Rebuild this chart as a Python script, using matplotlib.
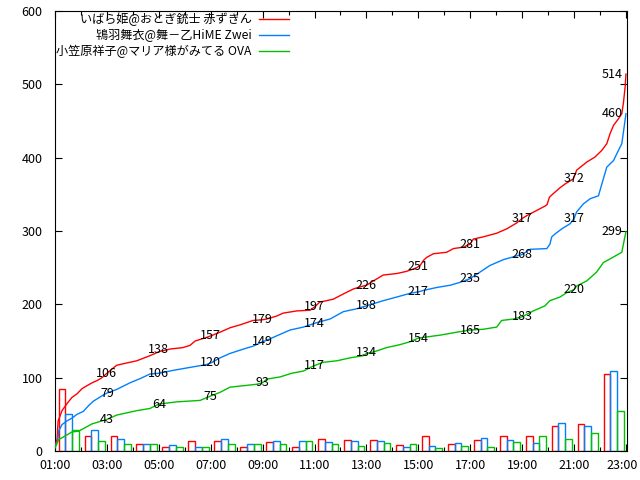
import numpy as np
import matplotlib
matplotlib.use("Agg")
import matplotlib.pyplot as plt
import matplotlib.transforms as mtransforms
from matplotlib.ticker import MultipleLocator, FixedLocator

plt.rcParams['font.family'] = ['Noto Sans CJK JP', 'DejaVu Sans']

names = ["いばら姫@おとぎ銃士 赤ずきん", "鴇羽舞衣@舞－乙HiME Zwei", "小笠原祥子@マリア様がみてる OVA"]
colors = ["#ff0000", "#0080ff", "#00c000"]

# cumulative votes (hour of day, total)
red_t = [1.00, 1.08, 1.12, 1.27, 1.45, 1.65, 1.85, 2.04, 2.23, 2.43, 2.62, 2.81, 3.00, 3.38, 3.76,
         4.15, 4.66, 5.05, 5.43, 5.93, 6.20, 6.40, 6.85, 7.00, 7.36, 7.74, 8.13, 8.63, 9.00, 9.16,
         9.54, 9.79, 10.31, 10.83, 11.02, 11.20, 11.72, 12.10, 12.50, 12.88, 13.00, 13.27, 13.65,
         14.17, 14.55, 14.94, 15.07, 15.20, 15.32, 15.58, 15.84, 16.09, 16.35, 16.73, 16.99, 17.12,
         17.50, 18.02, 18.41, 18.79, 19.00, 19.18, 19.56, 19.88, 19.96, 20.05, 20.20, 20.46, 20.65,
         20.97, 21.10, 21.49, 21.81, 22.07, 22.26, 22.39, 22.52, 22.71, 22.84, 22.90, 22.97, 23.00]
red_v = [8, 16, 41, 55, 64, 73, 78, 85, 89, 93, 96, 100, 106, 117, 120,
         123, 130, 136, 139, 141, 144, 150, 155, 157, 162, 168, 172, 178, 179, 180,
         184, 188, 191, 192, 197, 203, 207, 214, 221, 225, 226, 232, 240,
         242, 245, 250, 253, 260, 264, 269, 270, 271, 276, 278, 282, 289,
         292, 297, 303, 311, 317, 321, 328, 334, 336, 346, 351, 359, 364,
         371, 383, 394, 401, 410, 419, 433, 444, 453, 460, 474, 497, 514]

blue_t = [1.00, 1.10, 1.14, 1.27, 1.46, 1.66, 1.85, 2.09, 2.30, 2.48, 2.80, 3.00, 3.38, 3.89, 4.30,
          4.66, 5.00, 5.56, 6.20, 6.85, 7.00, 7.36, 7.74, 8.26, 8.64, 9.00, 9.16, 9.54, 10.06, 10.57,
          11.00, 11.08, 11.60, 12.11, 12.63, 13.00, 13.65, 14.17, 14.68, 15.00, 15.20, 15.71, 16.22,
          16.61, 16.99, 17.25, 17.76, 18.28, 18.79, 19.00, 19.30, 19.95, 20.07, 20.14, 20.27, 20.53,
          20.85, 21.00, 21.10, 21.36, 21.62, 21.94, 22.07, 22.26, 22.52, 22.71, 22.84, 22.93, 23.00]
blue_v = [8, 12, 27, 36, 41, 45, 50, 54, 62, 68, 75, 79, 84, 93, 99,
          105, 106, 110, 114, 118, 120, 127, 133, 139, 143, 149, 151, 157, 165, 169,
          174, 175, 180, 190, 194, 198, 205, 210, 215, 217, 219, 223, 226,
          230, 235, 241, 253, 261, 266, 268, 275, 276, 282, 292, 296, 303,
          310, 317, 326, 337, 344, 348, 364, 387, 396, 410, 419, 442, 460]

green_t = [1.00, 1.04, 1.14, 1.27, 1.46, 1.66, 1.91, 2.17, 2.43, 2.81, 3.00, 3.38, 4.15, 4.66, 5.00,
           5.69, 6.59, 7.00, 7.36, 7.74, 8.26, 8.77, 9.00, 9.16, 9.67, 10.12, 10.57, 10.96, 11.34,
           11.86, 12.37, 12.88, 13.00, 13.27, 13.78, 14.29, 14.68, 15.00, 15.84, 16.48, 17.00, 17.50,
           18.02, 18.21, 18.66, 19.00, 19.43, 19.88, 20.07, 20.46, 20.72, 21.00, 21.10, 21.49, 21.87,
           22.13, 22.39, 22.84, 22.93, 23.00]
green_v = [4, 7, 16, 18, 22, 26, 27, 32, 37, 41, 43, 49, 55, 58, 64,
           67, 69, 75, 80, 87, 89, 91, 93, 98, 101, 106, 109, 116, 121,
           123, 127, 130, 133, 135, 141, 145, 149, 154, 158, 162, 165, 166,
           169, 178, 180, 183, 191, 198, 205, 210, 216, 220, 225, 232, 244,
           257, 262, 271, 287, 299]

# votes per hour, hour starting 01:00 .. 22:00
hours = list(range(1, 23))
red_hourly = [84, 21, 20, 9, 5, 14, 14, 6, 12, 6, 16, 15, 15, 8, 20, 9, 15, 20, 20, 34, 37, 105]
blue_hourly = [50, 28, 16, 9, 8, 5, 16, 10, 14, 13, 12, 13, 14, 5, 7, 11, 18, 15, 11, 38, 34, 109]
green_hourly = [28, 14, 9, 10, 5, 5, 9, 9, 10, 14, 9, 7, 11, 9, 4, 7, 5, 12, 20, 16, 25, 54]

# totals written on the chart every two hours
label_hours = [3, 5, 7, 9, 11, 13, 15, 17, 19, 21, 23]
red_labels = [106, 138, 157, 179, 197, 226, 251, 281, 317, 372, 514]
blue_labels = [79, 106, 120, 149, 174, 198, 217, 235, 268, 317, 460]
green_labels = [43, 64, 75, 93, 117, 134, 154, 165, 183, 220, 299]

tick_hours = [1, 3, 5, 7, 9, 11, 13, 15, 17, 19, 21, 23]
tick_labels = ["01:00", "03:00", "05:00", "07:00", "09:00", "11:00",
               "13:00", "15:00", "17:00", "19:00", "21:00", "23:00"]


def main():
    fig = plt.figure(figsize=(6.4, 4.8), dpi=100)
    ax = fig.add_axes([55 / 640, 1 - 451 / 480, 572 / 640, 440 / 480])

    series = [(red_t, red_v, red_hourly, red_labels),
              (blue_t, blue_v, blue_hourly, blue_labels),
              (green_t, green_v, green_hourly, green_labels)]

    w = 0.26
    for i, (t, v, hourly, labs) in enumerate(series):
        ax.plot(t, v, color=colors[i], lw=1.0, label=names[i], zorder=3)
        ax.bar(np.array(hours) + 0.27 + i * w, hourly, width=w, fill=False,
               edgecolor=colors[i], linewidth=1.0, zorder=2)
        for h, n in zip(label_hours, labs):
            xh = h if h < 23 else 22.47
            ax.text(xh, n, str(n), ha="center", va="center", fontsize=9,
                    color="black", zorder=4)

    ax.set_xlim(1, 23.04)
    ax.set_ylim(0, 600)
    ax.xaxis.set_major_locator(FixedLocator(tick_hours))
    ax.set_xticklabels(tick_labels)
    ax.xaxis.set_minor_locator(FixedLocator(hours[1::2]))
    ax.yaxis.set_major_locator(MultipleLocator(100))
    ax.tick_params(which="both", direction="in", top=True, right=True,
                   labelsize=9, width=0.8)
    ax.tick_params(which="major", length=5)
    ax.tick_params(which="minor", length=3)
    ax.tick_params(axis="x", pad=6)
    ax.tick_params(axis="y", pad=9)
    for s in ax.spines.values():
        s.set_linewidth(0.8)

    # keep the last hour label inside the canvas
    last = ax.get_xticklabels()[-1]
    last.set_transform(last.get_transform() +
                       mtransforms.ScaledTranslation(-3 / 72, 0, fig.dpi_scale_trans))

    ax.legend(loc="upper left", bbox_to_anchor=(0, 1), markerfirst=False,
              frameon=False, fontsize=8.75, handlelength=2.45, handletextpad=0.65,
              borderaxespad=0, borderpad=0.1, labelspacing=0.25)

    fig.savefig("out.png", dpi=100)


if __name__ == "__main__":
    main()
